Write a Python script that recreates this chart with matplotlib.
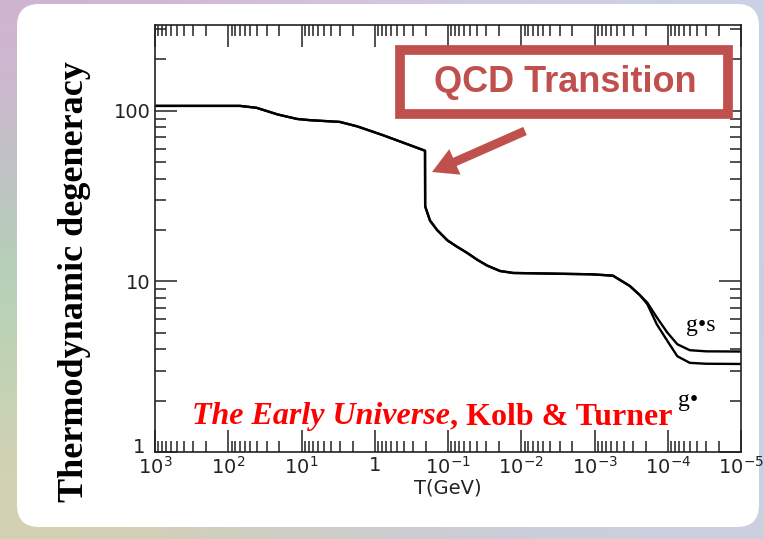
import matplotlib
matplotlib.use("Agg")
import matplotlib.pyplot as plt
import matplotlib.transforms as mtransforms
import numpy as np
from matplotlib.patches import FancyBboxPatch, Rectangle
from matplotlib.ticker import LogLocator, NullFormatter, FixedLocator, FixedFormatter

# ---- data read off the Kolb & Turner figure ----
# common part of g*s and g* (T in GeV)
T_common = [1000, 69, 41, 21, 11.5, 7.6, 3.0, 1.74, 0.78, 0.206,
            0.205, 0.176, 0.141, 0.102, 0.076, 0.055, 0.040, 0.0295,
            0.0195, 0.0129, 0.0011, 0.00056, 0.00033, 0.00024]
g_common = [106.75, 106.75, 104, 95, 89.5, 88, 86, 81, 72, 58.3,
            27.5, 22.7, 20.0, 17.4, 16.0, 14.7, 13.4, 12.4,
            11.5, 11.2, 11.0, 10.8, 9.4, 8.3]

# low-temperature tails where the two curves split
T_tail = [0.00019, 0.000141, 0.000102, 0.000074, 0.00005, 0.00003, 0.00001]
gs_tail = [7.5, 6.15, 5.03, 4.28, 3.95, 3.89, 3.88]
g_tail = [7.35, 5.6, 4.5, 3.64, 3.33, 3.29, 3.28]

x_ticks = [1e3, 1e2, 1e1, 1, 1e-1, 1e-2, 1e-3, 1e-4, 1e-5]
x_labels = ['$10^3$', '$10^2$', '$10^1$', '1', '$10^{-1}$', '$10^{-2}$',
            '$10^{-3}$', '$10^{-4}$', '$10^{-5}$']
y_ticks = [1, 10, 100]
y_labels = ['1', '10', '100']

RED = '#C0504D'
W, H = 764, 539

plt.rcParams['mathtext.fontset'] = 'dejavusans'

fig = plt.figure(figsize=(W / 100, H / 100), dpi=100)

# slide background: pastel border + white rounded card
bg = fig.add_axes([0, 0, 1, 1])
grad = np.array([
    [[0.82, 0.70, 0.82], [0.84, 0.78, 0.88], [0.80, 0.82, 0.90]],
    [[0.66, 0.84, 0.70], [0.76, 0.80, 0.86], [0.78, 0.82, 0.88]],
    [[0.84, 0.82, 0.70], [0.80, 0.80, 0.82], [0.80, 0.82, 0.88]],
])
bg.imshow(grad, extent=[0, W, H, 0], aspect='auto', interpolation='bicubic')
bg.add_patch(FancyBboxPatch((17, 4), 742, 523,
                            boxstyle='round,pad=0,rounding_size=22',
                            fc='white', ec='none'))
bg.set_xlim(0, W)
bg.set_ylim(H, 0)
bg.axis('off')

ax = fig.add_axes([155 / W, 1 - 452 / H, 586 / W, 427 / H])
ax.set_facecolor('white')

T_s = T_common + T_tail
ax.plot(T_s, g_common + gs_tail, color='black', lw=1.7, solid_joinstyle='round')
ax.plot(T_s, g_common + g_tail, color='black', lw=1.7, solid_joinstyle='round')

ax.set_xscale('log')
ax.set_yscale('log')
ax.set_xlim(1e3, 1e-5)
ax.set_ylim(1, 318)

ax.xaxis.set_major_locator(FixedLocator(x_ticks))
ax.xaxis.set_major_formatter(FixedFormatter(x_labels))
ax.yaxis.set_major_locator(FixedLocator(y_ticks))
ax.yaxis.set_major_formatter(FixedFormatter(y_labels))
for axis in (ax.xaxis, ax.yaxis):
    axis.set_minor_locator(LogLocator(base=10, subs=range(2, 10), numticks=20))
    axis.set_minor_formatter(NullFormatter())

ax.tick_params(which='both', direction='in', top=True, right=True, width=1.1,
               colors='#222222', labelsize=14, labelcolor='#222222')
ax.tick_params(which='major', length=16, pad=3)
ax.tick_params(which='minor', length=8)
for sp in ax.spines.values():
    sp.set_linewidth(1.2)
    sp.set_color('#222222')

ax.set_xlabel('T(GeV)', fontsize=14, labelpad=0, color='#222222')

fig.text(75 / W, 1 - 282 / H, 'Thermodynamic degeneracy', rotation=90,
         ha='center', va='center', family='Liberation Serif',
         fontweight='bold', fontsize=26)

# curve labels
ax.text(3.6e-5, 5.5, 'g•s', family='Liberation Serif', fontsize=17,
        ha='center', va='center')
ax.text(5.2e-5, 2.0, 'g•', family='Liberation Serif', fontsize=17,
        ha='center', va='center')

# QCD transition box and arrow
fig.add_artist(Rectangle((400 / W, 1 - 114 / H), 328 / W, 64 / H,
                         transform=fig.transFigure, fc='white', ec=RED,
                         lw=7, zorder=5))
fig.text(565 / W, 1 - 82 / H, 'QCD Transition', family='Liberation Sans',
         fontweight='bold', fontsize=26, color=RED, ha='center', va='center',
         zorder=6)
fig.add_artist(plt.Annotation('', xy=(432 / W, 1 - 172 / H),
                              xytext=(525 / W, 1 - 131 / H),
                              xycoords='figure fraction',
                              textcoords='figure fraction',
                              arrowprops=dict(arrowstyle='simple,head_length=0.9,head_width=1.0,tail_width=0.32',
                                              mutation_scale=20, fc=RED, ec='none',
                                              shrinkA=0, shrinkB=0),
                              zorder=6))

# reference text, italic title then the authors
t1 = fig.text(192 / W, 1 - 424 / H, 'The Early Universe', family='Liberation Serif',
              style='italic', fontweight='bold', fontsize=23, color='#FF0000',
              va='baseline', zorder=6)
fig.canvas.draw()
bb = t1.get_window_extent()
fig.text(bb.x1 / W, 1 - 424 / H, ', Kolb & Turner', family='Liberation Serif',
         fontweight='bold', fontsize=23, color='#FF0000', va='baseline', zorder=6)

# lift the "1" label off the corner, as in the scan
lab1 = ax.get_yticklabels()[0]
lab1.set_transform(lab1.get_transform() +
                   mtransforms.ScaledTranslation(-4 / 72, 5 / 72, fig.dpi_scale_trans))

fig.savefig('out.png', dpi=100)
